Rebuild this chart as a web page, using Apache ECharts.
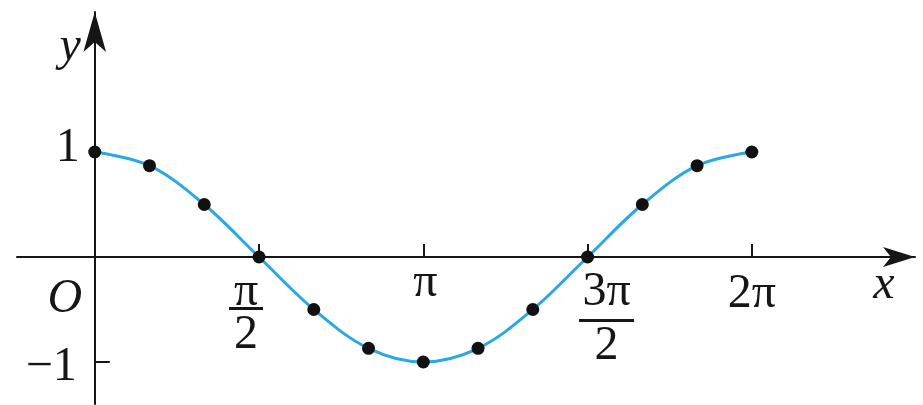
<!DOCTYPE html>
<html>
<head>
<meta charset="utf-8">
<script src="https://cdn.jsdelivr.net/npm/echarts@6/dist/echarts.min.js"></script>
<style>
  html, body { margin: 0; padding: 0; background: #fff; }
  #chart { width: 923px; height: 405px; }
</style>
</head>
<body>
<div id="chart"></div>
<script>
// x positions in steps of π/6, from 0 to 2π
const steps = [0, 1, 2, 3, 4, 5, 6, 7, 8, 9, 10, 11, 12];
// y = cos x at each step
const cosValues = [1, 0.87, 0.5, 0, -0.5, -0.87, -1, -0.87, -0.5, 0, 0.5, 0.87, 1];

// x-axis ticks and their labels ("a/b" is drawn as a stacked fraction)
const xTickSteps = [3, 6, 9, 12];
const xLabelSteps = [0, 3, 6, 9, 12];
const xTickLabels = ['O', 'π/2', 'π', '3π/2', '2π'];

// y-axis ticks and labels
const yTickValues = [-1];
const yLabelValues = [1, -1];
const yTickLabels = ['1', '−1'];

const SERIF = '"Liberation Serif", "DejaVu Serif", serif';
const INK = '#161616';
const FS = 48;
const GRID = { left: 17, right: 8, top: 12, bottom: 1 };

// per-label placement: gap above, horizontal shift, fraction line heights
const xLabelPlace = [
  { gap: 18, shift: -30, italic: true },
  { gap: 20, shift: -13, barWidth: 34, numLH: 30, denLH: 50 },
  { gap: 2, shift: 2 },
  { gap: 8, shift: 19, barWidth: 55, numLH: 54, denLH: 48 },
  { gap: 13, shift: 0 }
];

const rich = {};
xLabelPlace.forEach((p, i) => {
  const base = { fontFamily: SERIF, fontSize: FS, color: INK, fontStyle: p.italic ? 'italic' : 'normal' };
  rich['g' + i] = { width: 1, height: p.gap, lineHeight: p.gap };
  rich['n' + i] = Object.assign({}, base, { lineHeight: p.numLH || FS });
  rich['d' + i] = Object.assign({}, base, { lineHeight: p.denLH || FS });
  rich['b' + i] = { width: p.barWidth || 0, height: 3, lineHeight: 3, backgroundColor: INK };
  rich['s' + i] = { width: Math.abs(p.shift) * 2, height: 1, lineHeight: 1 };
});

function xLabel(value) {
  const i = xLabelSteps.indexOf(value);
  if (i < 0) return '';
  const p = xLabelPlace[i];
  const sp = p.shift ? '{s' + i + '|}' : '';
  const wrap = s => (p.shift > 0 ? sp + s : s + sp);
  const parts = xTickLabels[i].split('/');
  const lines = ['{g' + i + '|}', wrap('{n' + i + '|' + parts[0] + '}')];
  if (parts.length === 2) {
    lines.push(wrap('{b' + i + '|}'), wrap('{d' + i + '|' + parts[1] + '}'));
  }
  return lines.join('\n');
}

const yRich = {
  p: { fontFamily: SERIF, fontSize: FS, color: INK, lineHeight: FS, padding: [0, 0, 8, 0] },
  m: { fontFamily: SERIF, fontSize: FS, color: INK, lineHeight: FS, padding: [10, 3, 0, 0] }
};

const chart = echarts.init(document.getElementById('chart'), null, { renderer: 'canvas' });

chart.setOption({
  animation: false,
  backgroundColor: '#fff',
  grid: Object.assign({ containLabel: false, outerBoundsMode: 'none' }, GRID),
  xAxis: {
    type: 'value',
    min: -1.42,
    max: 14.98,
    offset: 0,
    splitLine: { show: false },
    axisLine: {
      onZero: false,
      lineStyle: { color: INK, width: 2 },
      symbol: ['none', 'arrow'],
      symbolSize: [15, 32]
    },
    axisTick: { show: true, inside: true, length: 13, customValues: xTickSteps, lineStyle: { color: INK, width: 2 } },
    axisLabel: {
      show: true,
      margin: 0,
      hideOverlap: false,
      customValues: xLabelSteps,
      formatter: xLabel,
      rich: rich
    },
    name: 'x',
    nameLocation: 'end',
    nameGap: -31,
    nameTextStyle: {
      fontFamily: SERIF, fontSize: FS, fontStyle: 'italic', color: INK,
      align: 'center', verticalAlign: 'top', padding: [4, 0, 0, 0]
    }
  },
  yAxis: {
    type: 'value',
    min: -1.4,
    max: 2.333,
    offset: 0,
    splitLine: { show: false },
    axisLine: {
      onZero: false,
      lineStyle: { color: INK, width: 2 },
      symbol: ['none', 'arrow'],
      symbolSize: [17, 40]
    },
    axisTick: { show: true, inside: true, length: 15, customValues: yTickValues, lineStyle: { color: INK, width: 2 } },
    axisLabel: {
      show: true,
      margin: 15,
      hideOverlap: false,
      customValues: yLabelValues,
      formatter: v => {
        const i = yLabelValues.indexOf(v);
        if (i < 0) return '';
        return (v > 0 ? '{p|' : '{m|') + yTickLabels[i] + '}';
      },
      rich: yRich
    },
    name: 'y',
    nameLocation: 'end',
    nameGap: -11,
    nameTextStyle: {
      fontFamily: SERIF, fontSize: FS, fontStyle: 'italic', color: INK,
      align: 'right', verticalAlign: 'top', padding: [0, 14, 0, 0]
    }
  },
  series: [{
    type: 'line',
    data: steps.map((s, i) => [s, cosValues[i]]),
    smooth: 0.35,
    symbol: 'circle',
    symbolSize: 13,
    showSymbol: true,
    lineStyle: { color: '#2aa8e4', width: 3 },
    itemStyle: { color: '#111' },
    emphasis: { disabled: true },
    z: 3
  }]
});

// Move both axes (line, ticks, labels) so they cross at the origin.
const origin = chart.convertToPixel({ gridIndex: 0 }, [0, 0]);
const gridBottomPx = chart.getHeight() - GRID.bottom;
chart.setOption({
  xAxis: { offset: -(gridBottomPx - origin[1]) },
  yAxis: { offset: -(origin[0] - GRID.left) }
});
</script>
</body>
</html>
